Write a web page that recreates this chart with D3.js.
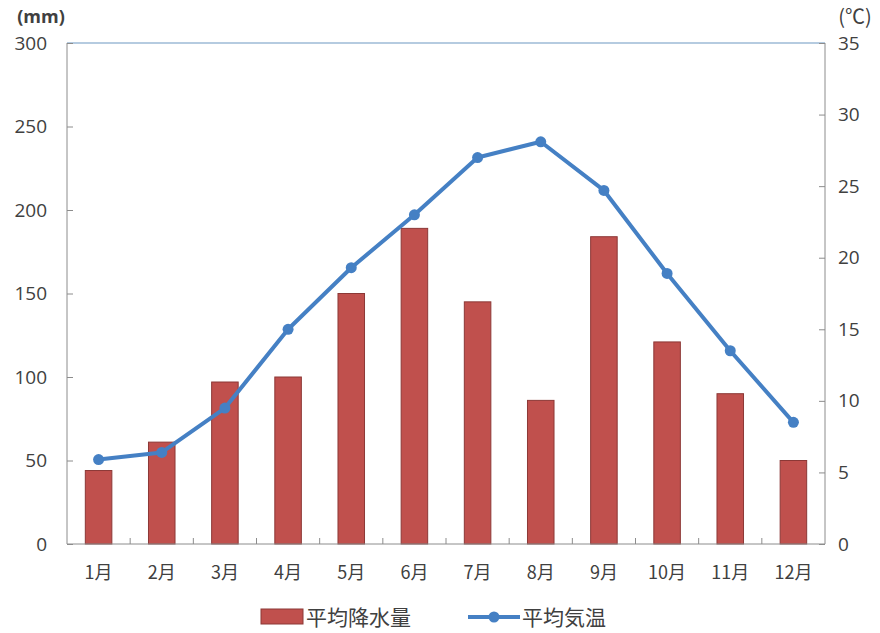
<!DOCTYPE html>
<html><head><meta charset="utf-8">
<script src="https://cdn.jsdelivr.net/npm/d3@7"></script>
<style>body{margin:0;background:#fff}text{font-family:"Noto Sans CJK JP","Noto Sans",sans-serif}</style>
</head><body>
<svg id="c" width="880" height="633"></svg>
<script>
const months = ["1月","2月","3月","4月","5月","6月","7月","8月","9月","10月","11月","12月"];
const precipitation = [44,61,97,100,150,189,145,86,184,121,90,50];
const temperature = [5.9,6.4,9.5,15.0,19.3,23.0,27.0,28.1,24.7,18.9,13.5,8.5];
const leftTicks = [0,50,100,150,200,250,300];
const rightTicks = [0,5,10,15,20,25,30,35];
const legendLabels = ["平均降水量","平均気温"];

const svg = d3.select("#c");
const L=67,R=825,T=43,B=544;
const x = d3.scaleBand().domain(months).range([L,R]).paddingInner(0).paddingOuter(0);
const yL = d3.scaleLinear().domain([0,300]).range([B,T]);
const yR = d3.scaleLinear().domain([0,35]).range([B,T]);
const textCol="#404040", axisCol="#8c8c8c";

// bars
const bw = x.bandwidth()*0.42;
svg.append("g").selectAll("rect").data(precipitation).join("rect")
  .attr("x",(d,i)=>x(months[i])+x.bandwidth()/2-bw/2)
  .attr("y",d=>yL(d)).attr("width",bw).attr("height",d=>B-yL(d))
  .attr("fill","#C0504D").attr("stroke","#8C3836").attr("stroke-width",1);

// frame
svg.append("line").attr("x1",L).attr("x2",R).attr("y1",T).attr("y2",T).attr("stroke","#9dbad6").attr("stroke-width",1.5);
svg.append("line").attr("x1",L).attr("x2",L).attr("y1",T).attr("y2",B).attr("stroke",axisCol);
svg.append("line").attr("x1",R).attr("x2",R).attr("y1",T).attr("y2",B).attr("stroke",axisCol);
svg.append("line").attr("x1",L).attr("x2",R).attr("y1",B).attr("y2",B).attr("stroke",axisCol);

// axes
const gL = svg.append("g").attr("transform",`translate(${L},0)`)
  .call(d3.axisLeft(yL).tickValues(leftTicks).tickSize(-6).tickPadding(20));
const gR = svg.append("g").attr("transform",`translate(${R},0)`)
  .call(d3.axisRight(yR).tickValues(rightTicks).tickSize(-6).tickPadding(13));
const bounds = d3.range(1,12).map(i=>L+i*x.bandwidth());
const gB = svg.append("g").attr("transform",`translate(0,${B})`)
  .call(d3.axisBottom(x).tickSize(0).tickPadding(22));
svg.append("g").selectAll("line").data(bounds).join("line")
  .attr("x1",d=>d).attr("x2",d=>d).attr("y1",B).attr("y2",B-6).attr("stroke",axisCol);
[gL,gR,gB].forEach(g=>{
  g.select(".domain").remove();
  g.selectAll(".tick line").attr("stroke",axisCol);
  g.selectAll("text").attr("fill",textCol).style("font-size","19px").style("font-family","'Open Sans','Noto Sans CJK JP',sans-serif");
});
gB.selectAll("text").style("font-size","18px").style("font-family","'Noto Sans CJK JP',sans-serif");

// unit labels
svg.append("text").attr("x",41).attr("y",23).attr("text-anchor","middle").attr("fill",textCol)
  .style("font-size","18px").style("font-weight","bold").style("font-family","'Open Sans',sans-serif").text("(mm)");
svg.append("text").attr("x",855).attr("y",24).attr("text-anchor","middle").attr("fill",textCol)
  .style("font-size","20px").text("(℃)");

// line
const lineCol="#4580C4";
const line = d3.line().x((d,i)=>x(months[i])+x.bandwidth()/2).y(d=>yR(d));
svg.append("path").datum(temperature).attr("d",line).attr("fill","none")
  .attr("stroke",lineCol).attr("stroke-width",4).attr("stroke-linejoin","round");
svg.append("g").selectAll("circle").data(temperature).join("circle")
  .attr("cx",(d,i)=>x(months[i])+x.bandwidth()/2).attr("cy",d=>yR(d)).attr("r",5.5).attr("fill",lineCol);

// legend
const lg = svg.append("g");
lg.append("rect").attr("x",261).attr("y",609).attr("width",42).attr("height",15).attr("fill","#C0504D").attr("stroke","#8C3836");
lg.append("text").attr("x",306).attr("y",625).attr("fill",textCol).style("font-size","21px").text(legendLabels[0]);
lg.append("line").attr("x1",468).attr("x2",520).attr("y1",617).attr("y2",617).attr("stroke",lineCol).attr("stroke-width",4);
lg.append("circle").attr("cx",494).attr("cy",617).attr("r",5.5).attr("fill",lineCol);
lg.append("text").attr("x",522).attr("y",625).attr("fill",textCol).style("font-size","21px").text(legendLabels[1]);
</script>
</body></html>
